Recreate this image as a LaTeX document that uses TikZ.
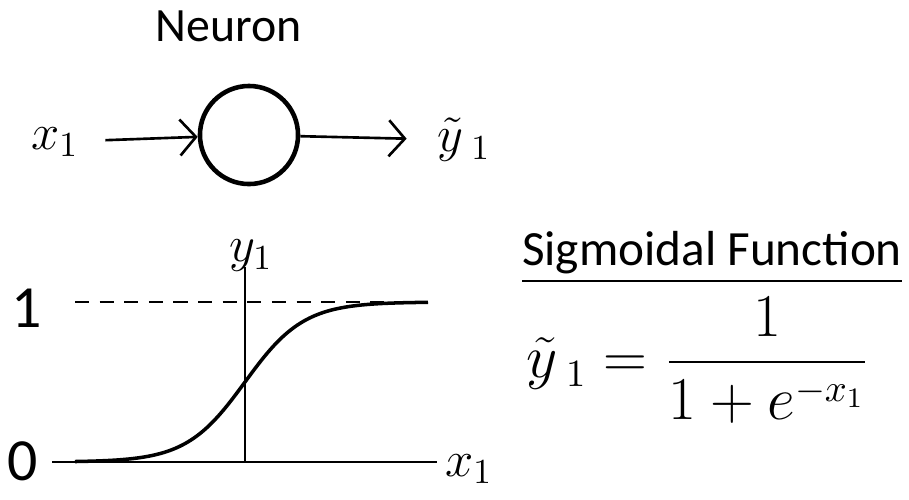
\documentclass[tikz,border=0pt]{standalone}
\usepackage{fontspec}
\setmainfont{Carlito}
\usepackage{amsmath}
\usetikzlibrary{positioning,arrows.meta}
\tikzset{
  label/.style={inner sep=0pt, font=\fontsize{17}{19}\selectfont},
  mathlabel/.style={inner sep=0pt, font=\fontsize{14}{16}\selectfont},
  cell/.style={circle, draw, line width=1.3pt, minimum size=0.98cm, inner sep=0pt},
  signal/.style={-{Straight Barb[length=1.6mm,width=3.6mm]}, line width=0.75pt},
  axis/.style={line width=0.75pt},
  curve/.style={line width=1pt},
  level/.style={dashed, line width=0.6pt, dash pattern=on 4pt off 3pt}
}
\begin{document}
\begin{tikzpicture}[x=0.01cm,y=-0.01cm]
\useasboundingbox (0,0) rectangle (909,499);
\node[label, font=\fontsize{13.6}{16}\selectfont] (title) at (229,26) {Neuron};
\node[cell] (neuron) at (249,135) {};
\node[mathlabel] (xin) at (55,142) {$x_1$};
\node[mathlabel] (yout) at (464,140) {$\tilde{y}_{\;1}$};
\draw[signal, shorten <=0.26cm] (xin) -- (neuron);
\draw[signal, shorten >=0.3cm] (neuron) -- (yout);
\coordinate (origin) at (245,462);
\coordinate (xend) at (437,462);
\coordinate (xstart) at (52,462);
\coordinate (ytop) at (245,267);
\coordinate (lvlstart) at (75,302);
\coordinate (lvlend) at (427,302);
\draw[axis] (xstart) -- (xend);
\draw[axis] (origin) -- (ytop);
\draw[level] (lvlstart) -- (lvlend);
\draw[curve] plot[domain=75:428, samples=120, smooth] (\x, {462-160/(1+exp(-0.034*(\x-245)))});
\node[label] (one) at (27,308) {1};
\node[label] (zero) at (23,461) {0};
\node[mathlabel] (ylab) at (251,256) {$y_1$};
\node[mathlabel] (xlab) at (469,469) {$x_1$};
\node[label, font=\fontsize{14}{17}\selectfont] (sig) at (712,258) {\underline{Sigmoidal Function}};
\node[inner sep=0pt, font=\fontsize{16}{20}\selectfont] (formula) at (698,360) {$\tilde{y}_{\;1} = \dfrac{1}{1+e^{-x_1}}$};
\end{tikzpicture}
\end{document}
